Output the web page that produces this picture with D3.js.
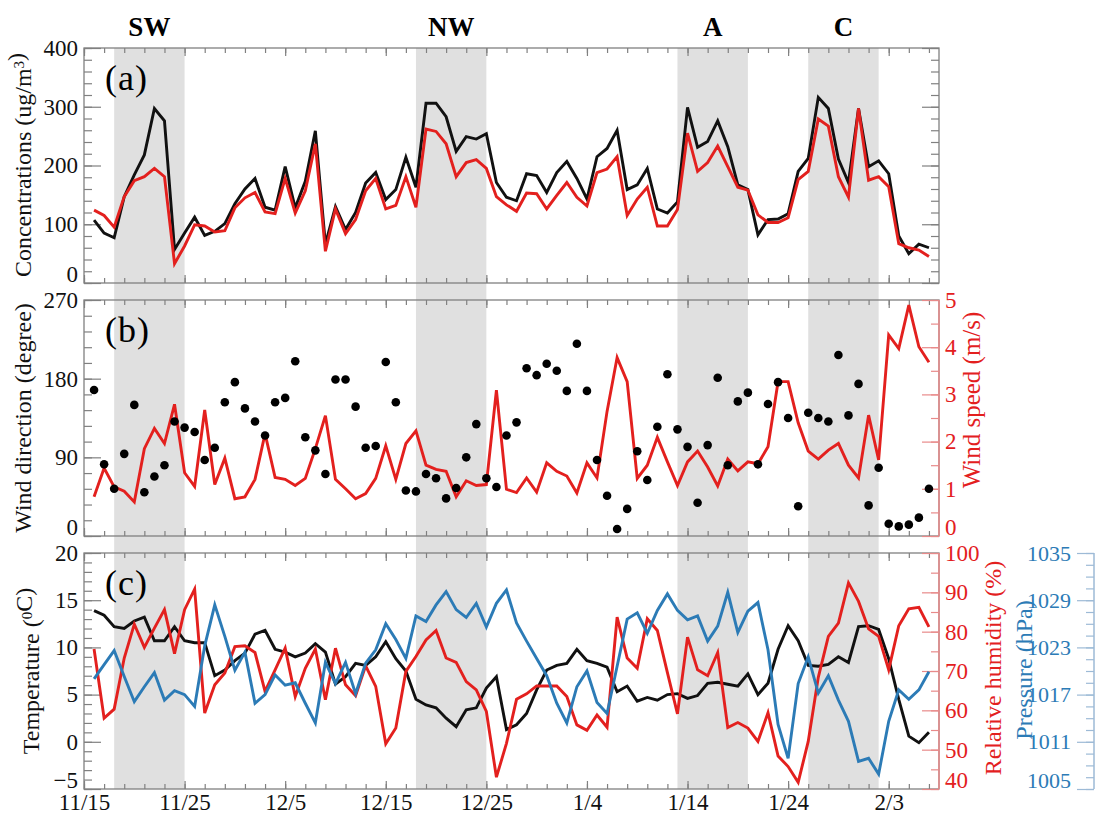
<!DOCTYPE html>
<html>
<head>
<meta charset="utf-8">
<script src="https://cdn.jsdelivr.net/npm/d3@7"></script>
<style>
  body { margin: 0; background: #fff; }
  svg { display: block; font-family: "Liberation Serif", "Times New Roman", serif; }
  .tick text { font-size: 23px; font-family: "Liberation Serif", "Times New Roman", serif; }
</style>
</head>
<body>
<svg id="chart" width="1111" height="814"></svg>
<script>
// daily values 11/16 .. 2/7
const firstDay = new Date(2013, 10, 16);
const lastDay = new Date(2014, 1, 8);

const concBlack = [107,85,77,147,184,218,297,276,57,85,112,81,88,101,135,160,178,129,124,198,128,173,259,66,130,91,120,170,188,142,159,214,163,306,306,283,224,249,245,254,171,146,140,186,183,154,188,207,178,143,215,229,260,159,167,195,126,119,138,299,231,241,276,232,167,159,82,108,109,118,190,212,316,297,211,171,297,198,208,186,80,50,66,60];
const concRed = [124,115,95,147,174,181,195,181,33,63,99,97,87,89,128,145,154,121,118,178,119,157,237,54,126,84,108,157,178,126,132,181,129,262,258,237,181,205,210,195,147,133,122,153,152,126,149,171,146,131,188,194,215,115,143,163,97,97,125,255,190,205,233,198,163,158,116,103,103,111,176,190,279,267,181,146,297,175,181,164,67,60,56,45];
const windDir = [167,82,54,94,150,50,68,81,131,124,119,87,101,153,176,146,131,115,153,158,200,113,98,71,179,179,148,101,103,199,153,52,51,71,66,43,55,90,128,66,56,115,130,192,184,197,189,166,220,166,87,46,8,31,97,64,125,185,122,102,38,104,181,81,154,164,82,151,176,135,34,141,135,131,207,138,174,35,78,14,11,13,21,54];
const windSpeed = [0.83,1.44,1.04,0.95,0.72,1.85,2.28,1.96,2.79,1.34,1.05,2.67,1.09,1.65,0.79,0.83,1.20,2.17,1.24,1.20,1.07,1.22,1.85,2.55,1.20,1.00,0.79,0.90,1.22,1.91,1.20,1.96,2.23,1.50,1.41,1.37,0.83,1.17,1.07,1.09,3.09,0.99,0.92,1.23,0.93,1.55,1.37,1.27,0.91,1.55,1.23,2.64,3.78,3.27,1.22,1.50,2.09,1.57,1.07,1.57,1.80,1.46,1.06,1.63,1.38,1.57,1.53,1.89,3.27,3.27,2.40,1.80,1.63,1.82,1.96,1.50,1.23,2.56,1.61,4.26,3.97,4.89,4.01,3.68];
const temperature = [13.9,13.4,12.2,12.0,12.8,13.2,10.7,10.7,12.2,10.7,10.5,10.5,7.0,7.6,8.6,9.4,11.4,11.8,9.8,9.5,9.0,9.4,10.4,9.5,6.1,6.9,8.3,8.1,9.0,10.6,8.8,7.5,4.5,3.9,3.6,2.5,1.6,3.4,3.6,5.7,6.9,1.3,1.8,3.0,5.5,7.6,8.1,8.3,9.8,8.6,8.3,7.9,5.3,5.9,4.3,4.7,4.4,5.0,5.1,4.6,4.9,6.2,6.3,6.1,5.9,7.2,5.0,6.2,9.8,12.3,10.7,8.1,8.0,8.2,9.0,8.4,12.2,12.3,11.9,8.8,4.5,0.6,-0.1,1.0];
const humidity = [75.6,58.0,60.3,73.3,81.9,76.0,80.9,85.6,74.4,85.6,90.8,59.3,66.5,69.5,76.2,76.4,74.7,64.8,70.3,75.8,63.5,70.7,75.6,62.7,75.8,66.5,63.7,71.3,66.1,51.5,55.5,69.9,73.7,77.9,80.3,73.3,72.2,67.3,65.2,59.7,43.0,51.6,62.8,64.2,66.2,66.2,66.2,63.5,56.3,54.9,58.8,55.7,83.7,73.3,70.7,83.3,80.3,69.6,59.1,78.6,70.3,68.8,74.7,55.6,56.9,55.5,52.1,59.4,48.4,45.7,41.7,52.1,68.4,78.8,82.2,92.4,87.7,80.7,78.8,70.3,81.5,85.8,86.2,81.2];
const pressure = [1019.0,1020.8,1022.6,1019.3,1016.1,1018.0,1019.8,1016.3,1017.5,1017.0,1015.5,1023.2,1028.4,1024.4,1020.1,1022.4,1015.9,1017.0,1019.5,1018.2,1018.5,1015.9,1013.4,1021.1,1018.4,1021.1,1017.1,1021.0,1022.7,1026.0,1024.0,1021.6,1027.0,1026.3,1028.4,1030.1,1027.8,1026.8,1028.6,1025.6,1028.6,1030.3,1026.1,1023.8,1021.6,1019.4,1015.9,1013.4,1018.0,1020.0,1016.0,1014.6,1020.6,1026.6,1027.4,1024.8,1027.7,1029.8,1027.7,1026.5,1027.0,1023.8,1025.7,1030.0,1024.9,1027.6,1028.7,1022.7,1013.2,1008.9,1018.4,1021.8,1017.2,1019.4,1016.3,1013.6,1008.5,1008.9,1006.9,1013.6,1017.6,1016.4,1017.6,1019.9];

const tickDates = ["2013-11-15","2013-11-25","2013-12-05","2013-12-15","2013-12-25","2014-01-04","2014-01-14","2014-01-24","2014-02-03"];
const tickLabels = ["11/15","11/25","12/5","12/15","12/25","1/4","1/14","1/24","2/3"];

const episodeNames = ["SW","NW","A","C"];
const episodeStart = ["2013-11-18","2013-12-18","2014-01-13","2014-01-26"];
const episodeEnd = ["2013-11-25","2013-12-25","2014-01-20","2014-02-02"];

const RED = "#e3201e", BLUE = "#2c7bb6", FRAME = "#808080";
const parse = d3.timeParse("%Y-%m-%d");
const dates = d3.timeDay.range(firstDay, lastDay);

const svg = d3.select("#chart");
const left = 84, right = 939;
const panels = { a: [48, 283], b: [300, 536], c: [553, 789] };

const x = d3.scaleTime()
  .domain([parse("2013-11-15"), parse("2014-02-08")])
  .range([left, right]);

// shaded episodes across all three panels
episodeNames.forEach(function(name, i) {
  const x0 = x(parse(episodeStart[i])), x1 = x(parse(episodeEnd[i]));
  svg.append("rect")
    .attr("x", x0).attr("y", panels.a[0])
    .attr("width", x1 - x0).attr("height", panels.c[1] - panels.a[0])
    .attr("fill", "#e0e0e0");
  svg.append("text")
    .attr("x", (x0 + x1) / 2).attr("y", 36)
    .attr("text-anchor", "middle")
    .style("font-size", "27px").style("font-weight", "bold")
    .text(name);
});

function styleAxis(g, color) {
  g.attr("font-family", null).attr("font-size", null);
  g.select(".domain").remove();
  g.selectAll(".tick line").attr("stroke", color).attr("stroke-width", 1.2);
  g.selectAll(".tick text").attr("fill", color === FRAME ? "#111" : color);
}

function xTicks(top, bottom, withLabels) {
  const minor = d3.timeDay.range(parse("2013-11-15"), parse("2014-02-08"), 2);
  const major = tickDates.map(parse);
  const gb = svg.append("g").attr("transform", "translate(0," + bottom + ")");
  gb.call(d3.axisBottom(x).tickValues(minor).tickSize(-5).tickFormat(""));
  styleAxis(gb, FRAME);
  const gb2 = svg.append("g").attr("transform", "translate(0," + bottom + ")");
  gb2.call(d3.axisBottom(x).tickValues(major).tickSize(-8).tickPadding(5)
    .tickFormat(function(d, i) { return withLabels ? tickLabels[i] : ""; }));
  styleAxis(gb2, FRAME);
  const gt = svg.append("g").attr("transform", "translate(0," + top + ")");
  gt.call(d3.axisTop(x).tickValues(minor).tickSize(-5).tickFormat(""));
  styleAxis(gt, FRAME);
  const gt2 = svg.append("g").attr("transform", "translate(0," + top + ")");
  gt2.call(d3.axisTop(x).tickValues(major).tickSize(-8).tickFormat(""));
  styleAxis(gt2, FRAME);
}

// y axis with minor + major ticks; side: "left" | "right"
function yAxis(scale, xpos, side, minorStep, majorStep, color, labelsOut) {
  const dom = scale.domain();
  const minor = d3.range(dom[0], dom[1] + 1e-6, minorStep);
  const major = d3.range(dom[0], dom[1] + 1e-6, majorStep);
  const axisFn = side === "left" ? d3.axisLeft : d3.axisRight;
  const inward = labelsOut ? -1 : 1;
  const g1 = svg.append("g").attr("transform", "translate(" + xpos + ",0)");
  g1.call(axisFn(scale).tickValues(minor).tickSize(-8 * inward).tickFormat(""));
  styleAxis(g1, color);
  const g2 = svg.append("g").attr("transform", "translate(" + xpos + ",0)");
  g2.call(axisFn(scale).tickValues(major).tickSize(-17 * inward).tickPadding(6).tickFormat(d3.format("d")));
  styleAxis(g2, color);
  // bottom label sits a little above the frame corner
  g2.selectAll(".tick text").filter(function(d) { return d === dom[0]; }).attr("dy", "-0.05em");
  return g2;
}

function frame(p) {
  svg.append("rect")
    .attr("x", left).attr("y", p[0])
    .attr("width", right - left).attr("height", p[1] - p[0])
    .attr("fill", "none").attr("stroke", FRAME).attr("stroke-width", 1.3);
}

function yTitle(xpos, ypos, color, size, parts) {
  const t = svg.append("text")
    .attr("transform", "translate(" + xpos + "," + ypos + ") rotate(-90)")
    .attr("text-anchor", "middle")
    .attr("fill", color)
    .style("font-size", size + "px");
  parts.forEach(function(s) {
    if (typeof s === "object") {
      t.append("tspan").attr("dy", "-0.45em").style("font-size", "15px").text(s.sup);
      t.append("tspan").attr("dy", "0.45em").text("");
    } else {
      t.append("tspan").text(s);
    }
  });
}

function panelLabel(p, txt) {
  svg.append("text").attr("x", 105).attr("y", p[0] + 42)
    .style("font-size", "36px").style("letter-spacing", "1px").text(txt);
}

function drawLine(values, scale, color) {
  const line = d3.line()
    .x(function(d, i) { return x(dates[i]); })
    .y(function(d) { return scale(d); });
  svg.append("path").datum(values)
    .attr("d", line).attr("fill", "none")
    .attr("stroke", color).attr("stroke-width", 2.9)
    .attr("stroke-linejoin", "miter");
}

// ---- panel (a)
const yConc = d3.scaleLinear().domain([0, 400]).range([panels.a[1], panels.a[0]]);
frame(panels.a);
xTicks(panels.a[0], panels.a[1], false);
yAxis(yConc, left, "left", 20, 100, FRAME, false);
yAxis(yConc, right, "right", 20, 100, FRAME, false).selectAll(".tick text").remove();
drawLine(concBlack, yConc, "#111");
drawLine(concRed, yConc, RED);
panelLabel(panels.a, "(a)");
yTitle(31, 165, "#111", 24, ["Concentrations (ug/m", {sup: "3"}, ")"]);

// ---- panel (b)
const yDir = d3.scaleLinear().domain([0, 270]).range([panels.b[1], panels.b[0]]);
const ySpd = d3.scaleLinear().domain([0, 5]).range([panels.b[1], panels.b[0]]);
frame(panels.b);
xTicks(panels.b[0], panels.b[1], false);
yAxis(yDir, left, "left", 18, 90, FRAME, false);
svg.append("line").attr("x1", right).attr("x2", right)
  .attr("y1", panels.b[0]).attr("y2", panels.b[1])
  .attr("stroke", "#e88a8a").attr("stroke-width", 1.5);
yAxis(ySpd, right, "right", 0.5, 1, "#e88a8a", false).selectAll(".tick text").attr("fill", RED);
drawLine(windSpeed, ySpd, RED);
svg.append("g").selectAll("circle")
  .data(windDir).enter().append("circle")
  .attr("cx", function(d, i) { return x(dates[i]); })
  .attr("cy", function(d) { return yDir(d); })
  .attr("r", 4.3).attr("fill", "#000");
panelLabel(panels.b, "(b)");
yTitle(31, 418, "#111", 24, ["Wind direction (degree)"]);
yTitle(980, 400, RED, 25, ["Wind speed (m/s)"]);

// ---- panel (c)
const yTemp = d3.scaleLinear().domain([-5, 20]).range([panels.c[1], panels.c[0]]);
const yRH = d3.scaleLinear().domain([40, 100]).range([panels.c[1], panels.c[0]]);
const yP = d3.scaleLinear().domain([1005, 1035]).range([panels.c[1], panels.c[0]]);
frame(panels.c);
xTicks(panels.c[0], panels.c[1], true);
yAxis(yTemp, left, "left", 1, 5, FRAME, false);
svg.append("line").attr("x1", right).attr("x2", right)
  .attr("y1", panels.c[0]).attr("y2", panels.c[1])
  .attr("stroke", "#e88a8a").attr("stroke-width", 1.5);
yAxis(yRH, right, "right", 5, 10, "#e88a8a", false).selectAll(".tick text").attr("fill", RED);
// pressure axis: ticks outward to the right, labels on the left
svg.append("line").attr("x1", 1094).attr("x2", 1094)
  .attr("y1", panels.c[0]).attr("y2", panels.c[1])
  .attr("stroke", "#9dbad6").attr("stroke-width", 1.5);
yAxis(yP, 1094, "left", 1.5, 6, "#9dbad6", true).selectAll(".tick text")
  .attr("fill", BLUE).style("font-size", "22px");
drawLine(temperature, yTemp, "#111");
drawLine(humidity, yRH, RED);
drawLine(pressure, yP, BLUE);
panelLabel(panels.c, "(c)");
yTitle(39, 671, "#111", 24, ["Temperature (", {sup: "0"}, "C)"]);
yTitle(1001, 668, RED, 24, ["Relative humidity (%)"]);
yTitle(1032, 670, BLUE, 24, ["Pressure (hPa)"]);
</script>
</body>
</html>
